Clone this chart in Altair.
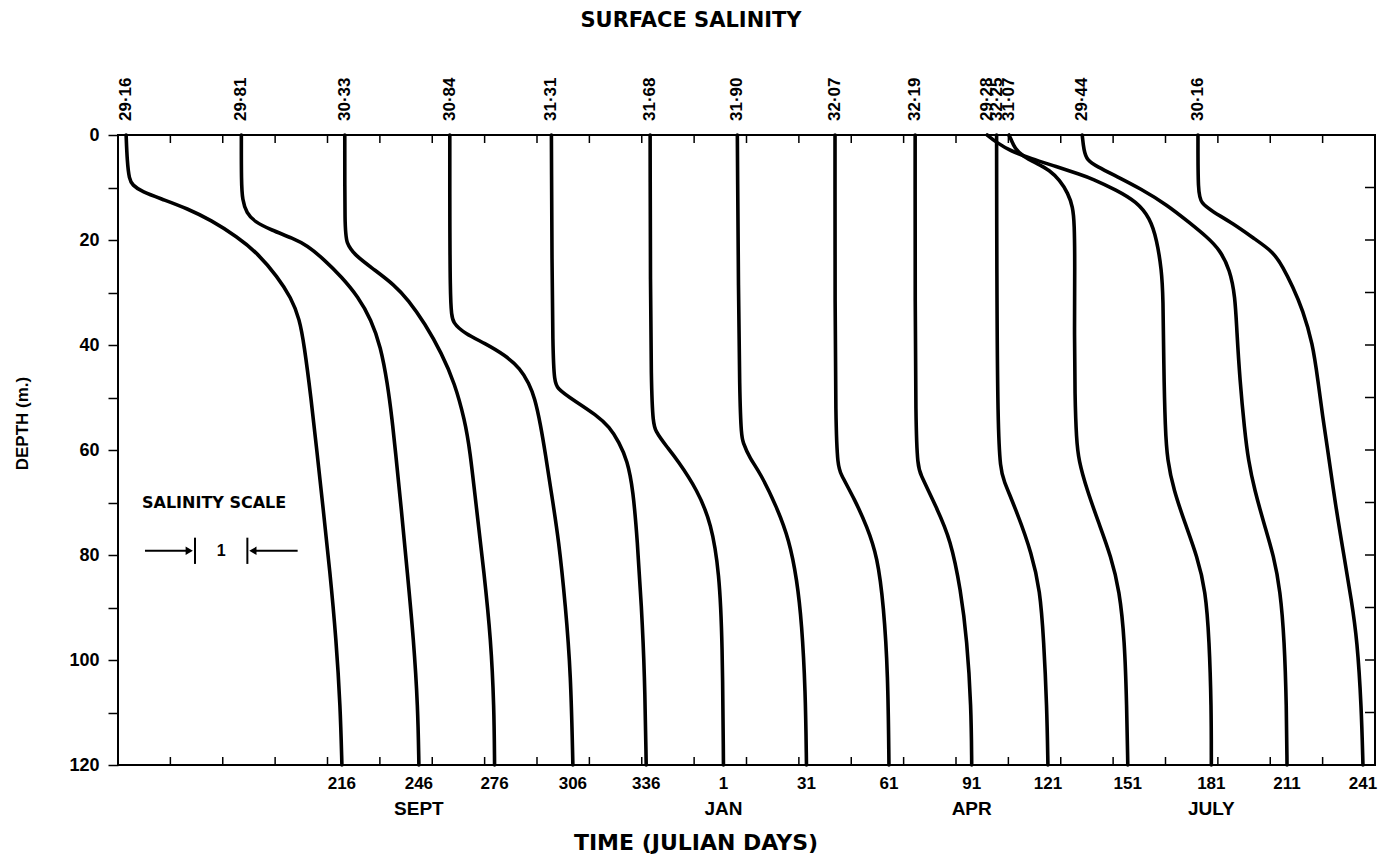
import altair as alt
import pandas as pd

FONT = "Liberation Sans"
WIDE = "DejaVu Sans"
W, H = 1257, 630
X_MIN, X_MAX = 130, 610          # time axis (days, continuous across the new year)
DAYS_PER_UNIT = 20               # 1 salinity unit spans 20 days on the time axis

# bottom-of-profile day labels and where each profile was plotted on the time axis
DAY_LABELS = [216, 246, 276, 306, 336, 1, 31, 61, 91, 121, 151, 181, 211, 241]
ANCHOR = [215.5, 244.9, 273.8, 303.7, 331.7, 361.2, 392.9, 424.4, 456.0, 485.1,
          515.6, 547.5, 576.4, 605.4]

# salinity profiles (depth m, salinity)
D216 = [0, 5, 8.5, 9.5, 10.8, 12.4, 14, 16.2, 19.4, 22.5, 27, 31, 35, 40, 50, 60, 71, 83, 96, 109, 120]
S216 = [29.16, 29.18, 29.22, 29.28, 29.45, 29.90, 30.32, 30.78, 31.28, 31.67, 32.05, 32.31, 32.47,
        32.56, 32.69, 32.80, 32.92, 33.05, 33.17, 33.25, 33.28]
D246 = [0, 9, 12.4, 14.9, 16.5, 18.1, 19.7, 21, 23.8, 27, 30.8, 35.2, 40.3, 47.3, 54.3, 60, 70.8,
        83.4, 96.2, 108.9, 120]
S246 = [29.81, 29.81, 29.83, 29.91, 30.06, 30.38, 30.80, 31.06, 31.40, 31.72, 32.04, 32.29, 32.47,
        32.60, 32.69, 32.75, 32.86, 32.98, 33.10, 33.18, 33.20]
D276 = [0, 18, 20.6, 22.9, 25.7, 28.6, 31.4, 35.9, 41.6, 47.3, 54.3, 60, 70.8, 83.4, 96.2, 108.9, 120]
S276 = [30.33, 30.33, 30.36, 30.52, 30.90, 31.28, 31.54, 31.86, 32.18, 32.43, 32.62, 32.72, 32.84,
        32.99, 33.12, 33.18, 33.19]
D306 = [0, 33.3, 35.9, 37.8, 39.7, 41.9, 44.5, 47.3, 50, 55, 61, 67.6, 77.1, 89.8, 102.5, 120]
S306 = [30.84, 30.84, 30.90, 31.13, 31.51, 31.89, 32.19, 32.35, 32.46, 32.57, 32.67, 32.77, 32.92,
        33.05, 33.15, 33.19]
D336 = [0, 46, 48.3, 50.8, 53.3, 55.6, 58.5, 62, 67.6, 77.1, 89.8, 102.5, 120]
S336 = [31.31, 31.33, 31.40, 31.78, 32.16, 32.42, 32.60, 32.76, 32.87, 32.95, 33.03, 33.09, 33.12]
D001 = [0, 53.7, 56.5, 59.4, 61.9, 67.6, 74, 83.4, 96.2, 120]
S001 = [31.68, 31.69, 31.78, 32.00, 32.20, 32.58, 32.85, 33.00, 33.06, 33.08]
D031 = [0, 56, 58.7, 61.6, 64.4, 70.8, 77.1, 84.8, 93, 105.7, 120]
S031 = [31.90, 31.94, 32.01, 32.14, 32.34, 32.65, 32.89, 33.04, 33.13, 33.20, 33.22]
D061 = [0, 62, 64.4, 69.5, 74.6, 80.3, 89.8, 102.5, 120]
S061 = [32.07, 32.07, 32.17, 32.45, 32.68, 32.88, 33.00, 33.08, 33.10]
D091 = [0, 62, 64.4, 70.8, 77.1, 86.7, 96.2, 108.9, 120]
S091 = [32.19, 32.19, 32.28, 32.59, 32.87, 33.06, 33.18, 33.26, 33.27]
D121 = [0, 62, 65.7, 72.1, 79.7, 86.7, 96.2, 108.9, 120]
S121 = [32.25, 32.26, 32.38, 32.65, 32.92, 33.08, 33.15, 33.21, 33.23]
D151 = [0, 1, 2.5, 4.1, 5.4, 6.7, 8.6, 11.1, 13.7, 16.8, 24.4, 37, 50, 58, 61.9, 67.6, 74, 80.3,
        86.7, 96.2, 108.9, 120]
S151 = [31.07, 31.12, 31.18, 31.34, 31.60, 31.85, 32.04, 32.20, 32.29, 32.32, 32.33, 32.32, 32.33,
        32.36, 32.40, 32.56, 32.79, 33.02, 33.18, 33.28, 33.32, 33.34]
D181 = [0, 1.5, 3, 4.5, 6, 7.5, 8.3, 10.5, 12.7, 15.8, 20, 25.7, 30.8, 43.5, 56.2, 61.9, 67.6, 74,
        80.3, 86.7, 96.2, 108.9, 120]
S181 = [29.28, 29.47, 29.72, 30.12, 30.60, 31.05, 31.28, 31.75, 32.13, 32.39, 32.52, 32.61, 32.64,
        32.65, 32.68, 32.72, 32.84, 33.06, 33.29, 33.45, 33.52, 33.56, 33.56]
D211 = [0, 2.9, 4.8, 6, 7.9, 10.2, 13.3, 16.8, 19.4, 21.9, 25.7, 30.8, 37.1, 46.7, 56.2, 61.9, 67.6,
        74, 80.3, 86.7, 96.2, 108.9, 120]
S211 = [29.44, 29.47, 29.53, 29.72, 30.10, 30.55, 31.06, 31.50, 31.82, 32.07, 32.26, 32.36, 32.39,
        32.45, 32.54, 32.61, 32.73, 32.91, 33.10, 33.22, 33.30, 33.34, 33.35]
D241 = [0, 11.1, 13, 14.6, 16.8, 20, 22.2, 25.1, 28.9, 33.3, 39.7, 46.7, 54.3, 58.1, 70.8, 80.3,
        88.6, 96.2, 108.9, 120]
S241 = [30.16, 30.16, 30.22, 30.44, 30.82, 31.27, 31.59, 31.78, 31.97, 32.16, 32.35, 32.45, 32.55,
        32.61, 32.79, 32.95, 33.09, 33.20, 33.28, 33.31]

DEPTHS = [D216, D246, D276, D306, D336, D001, D031, D061, D091, D121, D151, D181, D211, D241]
SALS = [S216, S246, S276, S306, S336, S001, S031, S061, S091, S121, S151, S181, S211, S241]

MONTHS = ["SEPT", "JAN", "APR", "JULY"]
MONTH_AT = [246, 1, 91, 181]

TIME_TICKS = list(range(150, 610, 20))
DEPTH_TICKS = list(range(10, 120, 10))

# ---------------------------------------------------------------- tables
rows, surf, bottom = [], [], []
for k, (lab, anc, ds, ss) in enumerate(zip(DAY_LABELS, ANCHOR, DEPTHS, SALS)):
    sb = ss[-1]
    for i, (d, s) in enumerate(zip(ds, ss)):
        rows.append({"profile": k, "i": i, "depth": d, "sal": s,
                     "x": anc + (s - sb) * DAYS_PER_UNIT})
    surf.append({"x": anc + (ss[0] - sb) * DAYS_PER_UNIT,
                 "text": f"{ss[0]:.2f}".replace(".", "\u00b7")})
    bottom.append({"x": anc, "text": str(lab)})
prof = pd.DataFrame(rows)
surf = pd.DataFrame(surf)
bottom = pd.DataFrame(bottom)
months = pd.DataFrame({"x": [ANCHOR[DAY_LABELS.index(m)] for m in MONTH_AT], "text": MONTHS})
tticks = pd.DataFrame({"x": TIME_TICKS})
dticks = pd.DataFrame({"depth": DEPTH_TICKS})

xs = alt.Scale(domain=[X_MIN, X_MAX], nice=False, zero=False)
ys = alt.Scale(domain=[0, 120], reverse=True, nice=False, zero=False)
yaxis = alt.Axis(values=list(range(0, 121, 10)),
                 labelExpr="datum.value % 20 == 0 ? datum.label : ''",
                 tickSize=10, tickWidth=1.5, tickColor="black", domain=False, grid=False,
                 labelFont=FONT, labelFontSize=18, labelFontWeight="bold", labelColor="black",
                 labelPadding=9, title="DEPTH (m.)", titleFont=FONT, titleFontSize=17,
                 titleFontWeight="bold", titleColor="black", titleX=-96, titleY=288,
                 titleBaseline="middle", titleAngle=270)
X = lambda f="x": alt.X(f"{f}:Q", scale=xs, axis=None)
Y = lambda f="depth": alt.Y(f"{f}:Q", scale=ys, axis=yaxis)

lines = alt.Chart(prof).mark_line(color="black", strokeWidth=3.6, interpolate="basis",
                                  strokeCap="round", strokeJoin="round").encode(
    x=X(), y=Y(), detail="profile:N", order="i:Q")

top_ticks = alt.Chart(tticks).mark_rule(color="black", strokeWidth=1.5).encode(
    x=X(), y=alt.value(0), y2=alt.value(8))
bot_ticks = alt.Chart(tticks).mark_rule(color="black", strokeWidth=1.5).encode(
    x=X(), y=alt.value(H - 8), y2=alt.value(H))
right_ticks = alt.Chart(dticks).mark_rule(color="black", strokeWidth=1.5).encode(
    y=Y(), x=alt.value(W - 10), x2=alt.value(W))

surf_txt = alt.Chart(surf).mark_text(font=FONT, fontSize=17, fontWeight="bold", angle=270,
                                     align="left", baseline="middle", color="black").encode(
    x=X(), y=alt.value(-14), text="text:N")
bot_txt = alt.Chart(bottom).mark_text(font=FONT, fontSize=17, fontWeight="bold",
                                      baseline="middle", color="black").encode(
    x=X(), y=alt.value(H + 19), text="text:N")
mon_txt = alt.Chart(months).mark_text(font=FONT, fontSize=19, fontWeight="bold",
                                      baseline="middle", color="black").encode(
    x=X(), y=alt.value(H + 44), text="text:N")
xtitle = alt.Chart(pd.DataFrame({"t": ["TIME   (JULIAN   DAYS)"]})).mark_text(
    font=WIDE, fontSize=22, fontWeight="bold", baseline="alphabetic",
    color="black").encode(x=alt.value(578), y=alt.value(H + 85), text="t:N")
toptitle = alt.Chart(pd.DataFrame({"t": ["SURFACE  SALINITY"]})).mark_text(
    font=WIDE, fontSize=21, fontWeight="bold", baseline="middle",
    color="black").encode(x=alt.value(573), y=alt.value(-114), text="t:N")

# salinity scale key: two bars 1 salinity unit apart
KEY_LEFT = 159.4
KEY_DEPTH = 79.2
key_bars = alt.Chart(pd.DataFrame({"x": [KEY_LEFT, KEY_LEFT + DAYS_PER_UNIT],
                                   "depth": [KEY_DEPTH - 2.5] * 2,
                                   "d2": [KEY_DEPTH + 2.5] * 2})).mark_rule(
    color="black", strokeWidth=2).encode(x=X(), y=Y(), y2="d2:Q")
key_shafts = alt.Chart(pd.DataFrame({"x": [140.3, 181.5], "x2": [157.0, 198.6],
                                     "depth": [KEY_DEPTH] * 2})).mark_rule(
    color="black", strokeWidth=2).encode(x=X(), x2="x2:Q", y=Y())
key_heads = alt.Chart(pd.DataFrame({"x": [157.2, 181.5], "depth": [KEY_DEPTH] * 2,
                                    "shape": ["triangle-right", "triangle-left"]})).mark_point(
    filled=True, color="black", size=70, opacity=1).encode(
    x=X(), y=Y(), shape=alt.Shape("shape:N", scale=None))
key_one = alt.Chart(pd.DataFrame({"x": [KEY_LEFT + DAYS_PER_UNIT / 2], "depth": [KEY_DEPTH],
                                  "t": ["1"]})).mark_text(
    font=FONT, fontSize=16, fontWeight="bold", baseline="middle", color="black").encode(
    x=X(), y=Y(), text="t:N")
key_title = alt.Chart(pd.DataFrame({"x": [166.7], "depth": [70.1],
                                    "t": ["SALINITY  SCALE"]})).mark_text(
    font=WIDE, fontSize=16, fontWeight="bold", baseline="middle",
    color="black").encode(x=X(), y=Y(), text="t:N")

chart = alt.layer(
    lines, top_ticks, bot_ticks, right_ticks, surf_txt, bot_txt, mon_txt, xtitle, toptitle,
    key_bars, key_shafts, key_heads, key_one, key_title
).properties(
    width=W, height=H,
    autosize=alt.AutoSizeParams(type="none"),
    padding={"left": 110, "top": 127, "right": 4, "bottom": 90},
    background="white",
).configure_view(stroke="black", strokeWidth=2)

chart.save("out.html", embed_options={"renderer": "svg", "actions": False})
